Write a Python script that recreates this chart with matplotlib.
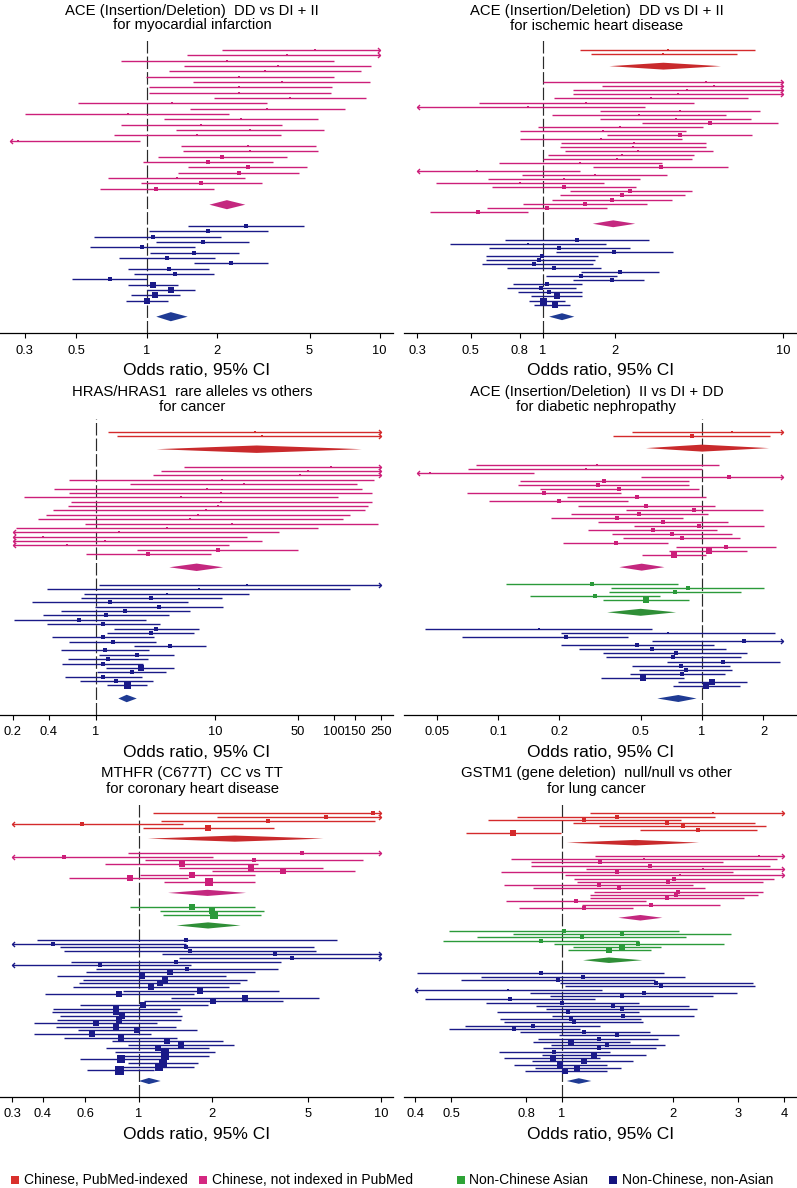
import numpy as np
import matplotlib
matplotlib.use("Agg")
import matplotlib.pyplot as plt
from matplotlib.path import Path
from matplotlib.lines import Line2D
from matplotlib.ticker import NullLocator, FixedLocator, FixedFormatter

plt.rcParams['font.family'] = ['Liberation Sans', 'DejaVu Sans']
plt.rcParams['lines.scale_dashes'] = False

# ---------------- DATA ----------------
legend_labels = ["Chinese, PubMed-indexed", "Chinese, not indexed in PubMed",
                 "Non-Chinese Asian", "Non-Chinese, non-Asian"]

# Panel 1: ACE DD vs DI+II, myocardial infarction
p1_title = ["ACE (Insertion/Deletion)  DD vs DI + II", "for myocardial infarction"]
p1_ticks = [0.3, 0.5, 1, 2, 5, 10]
p1_cn_or = [5.28, 4.01, 2.21, 3.65, 3.21, 2.50, 3.79, 2.50, 2.48, 4.12, 1.29, 3.30, 0.83, 2.54,
            1.71, 2.77, 1.65, 0.28, 2.72, 2.79, 2.11, 1.83, 2.72, 2.50, 1.35, 1.71, 1.10]
p1_cn_lo = [2.10, 1.49, 0.775, 1.45, 1.25, 0.99, 1.58, 1.02, 1.02, 1.94, 0.508, 1.53, 0.301, 1.19,
            0.775, 1.34, 0.723, 0.05, 1.41, 1.43, 1.12, 0.967, 1.51, 1.37, 0.684, 0.945, 0.629]
p1_cn_hi = [25, 20, 6.34, 9.18, 8.31, 6.34, 9.08, 6.23, 6.20, 8.73, 3.30, 7.11, 2.25, 5.41,
            3.79, 5.74, 3.76, 0.936, 5.32, 5.44, 4.01, 3.49, 4.86, 4.51, 2.64, 3.13, 1.95]
p1_cn_pool = [2.21, 1.86, 2.65]
p1_nn_or = [2.67, 1.83, 1.06, 1.74, 0.958, 1.60, 1.22, 2.30, 1.25, 1.32, 0.695, 1.06, 1.27, 1.09, 1.00]
p1_nn_lo = [1.50, 1.02, 0.593, 1.10, 0.570, 1.03, 0.762, 1.59, 0.834, 0.885, 0.478, 0.828, 1.00, 0.856, 0.812]
p1_nn_hi = [4.73, 3.32, 2.09, 2.76, 1.62, 2.50, 1.96, 3.32, 1.86, 1.95, 1.00, 1.36, 1.62, 1.39, 1.23]
p1_nn_pool = [1.27, 1.10, 1.50]

# Panel 2: ACE DD vs DI+II, ischemic heart disease
p2_title = ["ACE (Insertion/Deletion)  DD vs DI + II", "for ischemic heart disease"]
p2_ticks = [0.3, 0.5, 0.8, 1, 2, 10]
p2_cp_or = [3.31, 3.17]
p2_cp_lo = [1.43, 1.58]
p2_cp_hi = [7.64, 6.41]
p2_cp_pool = [3.17, 1.89, 5.50]
p2_cn_or = [4.78, 5.16, 3.97, 3.66, 2.81, 1.51, 0.863, 3.72, 2.51, 3.56, 4.93, 2.10, 1.78, 3.70,
            1.74, 2.38, 2.36, 2.49, 2.13, 2.03, 1.43, 3.09, 0.532, 1.64, 1.22, 0.802, 1.22,
            2.30, 2.14, 1.93, 1.50, 1.04, 0.538]
p2_cn_lo = [1.00, 1.76, 1.33, 1.33, 1.11, 0.543, 0.10, 1.73, 1.09, 1.73, 2.58, 0.956, 0.802, 1.85,
            0.802, 1.19, 1.18, 1.23, 1.05, 1.00, 0.656, 1.62, 0.10, 0.815, 0.592, 0.358, 0.611,
            1.29, 1.18, 1.09, 0.828, 0.586, 0.338]
p2_cn_hi = [20, 20, 20, 20, 7.13, 4.23, 2.66, 8.02, 5.79, 7.36, 9.47, 4.63, 3.94, 7.40,
            3.78, 4.78, 4.75, 5.09, 4.23, 4.16, 3.14, 5.88, 1.43, 3.27, 2.54, 1.80, 2.43,
            4.16, 3.91, 3.44, 2.70, 1.84, 0.863]
p2_cn_pool = [1.96, 1.61, 2.42]
p2_nn_or = [1.39, 0.869, 1.17, 1.98, 0.987, 0.965, 0.920, 1.11, 2.09, 1.44, 1.94, 1.04, 0.978,
            1.06, 1.14, 1.00, 1.12]
p2_nn_lo = [0.695, 0.412, 0.596, 1.13, 0.579, 0.579, 0.559, 0.710, 1.44, 1.03, 1.33, 0.747, 0.710,
            0.784, 0.891, 0.877, 0.92]
p2_nn_hi = [2.77, 1.82, 2.30, 3.47, 1.69, 1.64, 1.61, 1.74, 3.05, 2.03, 2.62, 1.45, 1.37,
            1.45, 1.45, 1.23, 1.30]
p2_nn_pool = [1.20, 1.06, 1.35]

# Panel 3: HRAS rare alleles, cancer
p3_title = ["HRAS/HRAS1  rare alleles vs others", "for cancer"]
p3_ticks = [0.2, 0.4, 1, 10, 50, 100, 150, 250]
p3_cp_or = [21.7, 25.0]
p3_cp_lo = [1.27, 1.49]
p3_cp_hi = [1000, 1000]
p3_cp_pool = [22.4, 3.23, 171]
p3_cn_or = [93.8, 60.1, 51.8, 11.4, 17.5, 8.62, 11.2, 5.18, 11.2, 10.5, 8.40, 7.25, 6.17, 13.8,
            3.98, 1.57, 0.356, 1.19, 0.567, 10.5, 2.72]
p3_cn_lo = [5.52, 3.52, 2.99, 0.593, 1.93, 0.447, 0.593, 0.250, 0.613, 0.585, 0.438, 0.380, 0.323,
            0.808, 0.213, 0.10, 0.10, 0.10, 0.10, 2.20, 0.824]
p3_cn_hi = [1000, 1000, 1000, 217, 155, 171, 210, 109, 210, 194, 182, 136, 120, 236,
            73.8, 34.7, 18.5, 24.7, 13.2, 49.5, 9.20]
p3_cn_pool = [7.01, 4.13, 11.7]
p3_nn_or = [18.5, 7.34, 3.92, 2.90, 1.31, 3.38, 1.76, 1.21, 0.724, 1.15, 3.19, 2.90, 1.15, 1.38,
            4.19, 1.19, 2.20, 1.27, 1.14, 2.37, 1.99, 1.15, 1.47, 1.81]
p3_nn_lo = [1.06, 0.385, 0.798, 0.743, 0.288, 0.98, 0.508, 0.356, 0.206, 0.385, 1.42, 1.23, 0.430,
            0.597, 2.09, 0.508, 1.06, 0.585, 0.521, 1.21, 1.01, 0.549, 0.734, 1.24]
p3_nn_hi = [1000, 136, 19.4, 11.4, 5.97, 11.7, 6.17, 4.11, 2.62, 3.45, 7.34, 6.70, 3.09, 3.17,
            8.35, 2.79, 4.52, 2.75, 2.50, 4.55, 3.88, 2.45, 2.99, 2.67]
p3_nn_pool = [1.81, 1.54, 2.20]

# Panel 4: ACE II vs DI+DD, diabetic nephropathy
p4_title = ["ACE (Insertion/Deletion)  II vs DI + DD", "for diabetic nephropathy"]
p4_ticks = [0.05, 0.1, 0.2, 0.5, 1, 2]
p4_cp_or = [1.41, 0.893]
p4_cp_lo = [0.455, 0.367]
p4_cp_hi = [5.0, 2.15]
p4_cp_pool = [1.00, 0.531, 2.13]
p4_cn_or = [0.307, 0.270, 0.0464, 1.36, 0.332, 0.310, 0.393, 0.168, 0.479, 0.198, 0.531, 0.914,
            0.493, 0.382, 0.641, 0.967, 0.573, 0.716, 0.795, 0.377, 1.31, 1.08, 0.732]
p4_cn_lo = [0.078, 0.0716, 0.01, 0.50, 0.128, 0.125, 0.161, 0.0707, 0.217, 0.0907, 0.246, 0.423,
            0.228, 0.181, 0.308, 0.466, 0.277, 0.363, 0.409, 0.209, 0.746, 0.692, 0.506]
p4_cn_hi = [1.21, 1.00, 0.150, 5.0, 0.867, 0.867, 0.970, 0.401, 1.05, 0.432, 1.16, 1.98,
            1.07, 0.810, 1.34, 2.01, 1.19, 1.41, 1.54, 0.684, 2.30, 1.67, 1.05]
p4_cn_pool = [0.506, 0.393, 0.654]
p4_na_or = [0.290, 0.851, 0.737, 0.299, 0.531]
p4_na_lo = [0.109, 0.358, 0.351, 0.144, 0.328]
p4_na_hi = [0.765, 2.01, 1.55, 0.622, 0.867]
p4_na_pool = [0.50, 0.343, 0.746]
p4_nn_or = [0.158, 0.679, 0.215, 1.61, 0.482, 0.571, 0.743, 0.724, 1.27, 0.789, 0.832, 0.795,
            0.512, 1.12, 1.05]
p4_nn_lo = [0.0439, 0.204, 0.0669, 0.571, 0.204, 0.248, 0.328, 0.337, 0.671, 0.455, 0.493, 0.441,
            0.320, 0.760, 0.724]
p4_nn_hi = [0.567, 2.28, 0.435, 5.0, 1.14, 1.31, 1.67, 1.56, 2.41, 1.37, 1.40, 1.29,
            0.819, 1.67, 1.54]
p4_nn_pool = [0.765, 0.604, 0.94]

# Panel 5: MTHFR CC vs TT, coronary heart disease
p5_title = ["MTHFR (C677T)  CC vs TT", "for coronary heart disease"]
p5_ticks = [0.3, 0.4, 0.6, 1, 2, 5, 10]
p5_cp_or = [9.30, 5.93, 3.40, 0.580, 1.93]
p5_cp_lo = [1.14, 2.11, 1.23, 0.10, 1.04]
p5_cp_hi = [30, 30, 9.44, 1.52, 3.61]
p5_cp_pool = [2.49, 1.09, 5.78]
p5_cn_or = [4.73, 0.491, 3.00, 1.50, 2.89, 3.95, 1.66, 0.918, 1.95]
p5_cn_lo = [0.898, 0.10, 1.06, 0.724, 1.47, 2.00, 1.01, 0.515, 1.27]
p5_cn_hi = [30, 2.02, 8.45, 3.11, 5.74, 7.81, 3.02, 1.60, 3.02]
p5_cn_pool = [1.92, 1.32, 2.77]
p5_na_or = [1.66, 2.00, 2.05]
p5_na_lo = [0.918, 1.22, 1.26]
p5_na_hi = [3.02, 3.29, 3.19]
p5_na_pool = [1.93, 1.43, 2.63]
p5_nn_or = [1.56, 0.440, 1.57, 1.62, 3.65, 4.30, 1.42, 0.690, 1.58, 1.35, 1.03, 1.28, 1.22, 1.12,
            1.79, 0.829, 2.74, 2.03, 1.04, 0.801, 0.801, 0.853, 0.829, 0.662, 0.801, 0.978, 0.641,
            0.840, 1.31, 1.49, 1.20, 1.28, 1.28, 0.840, 1.26, 1.21, 0.829]
p5_nn_lo = [0.381, 0.10, 0.472, 0.491, 1.25, 1.47, 0.522, 0.10, 0.668, 0.602, 0.460, 0.589, 0.567,
            0.532, 0.862, 0.411, 1.36, 1.05, 0.571, 0.443, 0.438, 0.472, 0.461, 0.369, 0.453, 0.562,
            0.369, 0.491, 0.771, 0.904, 0.730, 0.796, 0.856, 0.571, 0.904, 0.813, 0.608]
p5_nn_hi = [6.56, 1.56, 5.30, 5.37, 30, 30, 3.86, 1.64, 3.74, 3.03, 2.30, 2.79, 2.61, 2.35,
            3.80, 1.69, 5.54, 3.95, 1.92, 1.48, 1.44, 1.51, 1.49, 1.19, 1.42, 1.73, 1.12,
            1.43, 2.22, 2.48, 1.95, 2.06, 1.95, 1.25, 1.76, 1.69, 1.15]
p5_nn_pool = [1.10, 1.00, 1.23]

# Panel 6: GSTM1 null/null vs other, lung cancer
p6_title = ["GSTM1 (gene deletion)  null/null vs other", "for lung cancer"]
p6_ticks = [0.4, 0.5, 0.8, 1, 2, 3, 4]
p6_cp_or = [2.56, 1.41, 1.15, 1.92, 2.12, 2.34, 0.738]
p6_cp_lo = [1.19, 0.757, 0.628, 1.07, 1.26, 1.63, 0.549]
p6_cp_hi = [10, 2.60, 2.10, 3.33, 3.56, 3.37, 0.994]
p6_cp_pool = [1.58, 1.03, 2.35]
p6_cn_or = [3.42, 1.67, 1.27, 1.73, 2.41, 1.41, 2.09, 2.01, 1.94, 1.26, 1.43, 2.06, 2.03, 1.93,
            1.09, 1.74, 1.15]
p6_cn_lo = [1.23, 0.727, 0.822, 0.822, 1.16, 0.684, 1.02, 1.08, 1.10, 0.698, 0.833, 1.22, 1.19,
            1.19, 0.704, 1.13, 0.765]
p6_cn_hi = [10, 3.82, 2.73, 3.65, 10, 2.90, 10, 3.74, 3.50, 2.27, 2.44, 3.50, 3.40, 3.12,
            1.69, 2.68, 1.56]
p6_cn_pool = [1.63, 1.42, 1.87]
p6_na_or = [1.01, 1.45, 1.13, 0.875, 1.61, 1.45, 1.34]
p6_na_lo = [0.495, 0.738, 0.587, 0.475, 0.951, 1.07, 1.04]
p6_na_hi = [2.08, 2.87, 2.17, 1.62, 2.74, 1.85, 1.74]
p6_na_pool = [1.34, 1.14, 1.65]
p6_nn_or = [0.875, 1.14, 0.973, 1.80, 1.85, 0.713, 1.67, 1.45, 0.723, 1.00, 1.37, 1.45, 1.04, 1.46,
            1.06, 1.08, 0.833, 0.741, 1.15, 1.41, 1.26, 1.06, 1.32, 1.26, 0.951, 1.22, 0.943, 1.15,
            0.988, 1.10, 1.02]
p6_nn_lo = [0.404, 0.603, 0.531, 0.988, 1.02, 0.20, 0.819, 0.928, 0.425, 0.622, 0.850, 0.905, 0.668,
            0.938, 0.679, 0.698, 0.546, 0.494, 0.77, 0.983, 0.863, 0.836, 0.932, 0.89, 0.676, 0.881,
            0.697, 0.827, 0.741, 0.842, 0.794]
p6_nn_hi = [1.89, 2.15, 1.79, 3.30, 3.33, 1.28, 2.97, 2.56, 1.23, 1.62, 2.21, 2.32, 1.62, 2.28,
            1.64, 1.66, 1.27, 1.12, 1.73, 2.07, 1.82, 1.53, 1.90, 1.80, 1.35, 1.69, 1.27, 1.56,
            1.32, 1.44, 1.32]
p6_nn_pool = [1.11, 1.03, 1.20]

# ---------------- STYLE / LAYOUT ----------------
COL = {'cp': '#d42a2c', 'cn': '#cc1f7a', 'na': '#2b9a3a', 'nn': '#1a1a88'}
DIA = {'cp': '#c92a2c', 'cn': '#c4287f', 'na': '#2f8f37', 'nn': '#1f3b94'}
LEG = {'cp': '#d9302c', 'cn': '#d42881', 'na': '#2ea336', 'nn': '#14147f'}

panels = [
    dict(title=p1_title, ticks=p1_ticks, xlim=(0.235, 11.4), clip=(0.26, 10), maxside=6,
         groups=[('cn', p1_cn_or, p1_cn_lo, p1_cn_hi, p1_cn_pool),
                 ('nn', p1_nn_or, p1_nn_lo, p1_nn_hi, p1_nn_pool)]),
    dict(title=p2_title, ticks=p2_ticks, xlim=(0.264, 11.4), clip=(0.3, 10), maxside=7,
         groups=[('cp', p2_cp_or, p2_cp_lo, p2_cp_hi, p2_cp_pool),
                 ('cn', p2_cn_or, p2_cn_lo, p2_cn_hi, p2_cn_pool),
                 ('nn', p2_nn_or, p2_nn_lo, p2_nn_hi, p2_nn_pool)]),
    dict(title=p3_title, ticks=p3_ticks, xlim=(0.156, 313), clip=(0.2, 250), maxside=7,
         groups=[('cp', p3_cp_or, p3_cp_lo, p3_cp_hi, p3_cp_pool),
                 ('cn', p3_cn_or, p3_cn_lo, p3_cn_hi, p3_cn_pool),
                 ('nn', p3_nn_or, p3_nn_lo, p3_nn_hi, p3_nn_pool)]),
    dict(title=p4_title, ticks=p4_ticks, xlim=(0.0346, 2.92), clip=(0.04, 2.5), maxside=6,
         groups=[('cp', p4_cp_or, p4_cp_lo, p4_cp_hi, p4_cp_pool),
                 ('cn', p4_cn_or, p4_cn_lo, p4_cn_hi, p4_cn_pool),
                 ('na', p4_na_or, p4_na_lo, p4_na_hi, p4_na_pool),
                 ('nn', p4_nn_or, p4_nn_lo, p4_nn_hi, p4_nn_pool)]),
    dict(title=p5_title, ticks=p5_ticks, xlim=(0.267, 11.2), clip=(0.3, 10), maxside=9,
         groups=[('cp', p5_cp_or, p5_cp_lo, p5_cp_hi, p5_cp_pool),
                 ('cn', p5_cn_or, p5_cn_lo, p5_cn_hi, p5_cn_pool),
                 ('na', p5_na_or, p5_na_lo, p5_na_hi, p5_na_pool),
                 ('nn', p5_nn_or, p5_nn_lo, p5_nn_hi, p5_nn_pool)]),
    dict(title=p6_title, ticks=p6_ticks, xlim=(0.373, 4.33), clip=(0.4, 4), maxside=6,
         groups=[('cp', p6_cp_or, p6_cp_lo, p6_cp_hi, p6_cp_pool),
                 ('cn', p6_cn_or, p6_cn_lo, p6_cn_hi, p6_cn_pool),
                 ('na', p6_na_or, p6_na_lo, p6_na_hi, p6_na_pool),
                 ('nn', p6_nn_or, p6_nn_lo, p6_nn_hi, p6_nn_pool)]),
]

W, H, DPI = 797, 1188, 100
fig = plt.figure(figsize=(W / DPI, H / DPI), dpi=DPI)
PT = 72.0 / DPI  # points per pixel

col_x = [(0, 393), (404, 797)]
title_cx = [192, 596.5]
row_top = [38, 419.3, 801.7]
row_first = [50, 431.7, 813.3]
row_last = [316.7, 698.5, 1081.0]
row_axis = [333.3, 715.0, 1096.7]
row_title = [(11, 25.5), (392, 407), (773.5, 788.5)]

RIGHT = Path([(-0.5, 0.5), (0, 0), (-0.5, -0.5)], [Path.MOVETO, Path.LINETO, Path.LINETO])
LEFT = Path([(0.5, 0.5), (0, 0), (0.5, -0.5)], [Path.MOVETO, Path.LINETO, Path.LINETO])
LW = 1.0

for i, p in enumerate(panels):
    r, c = divmod(i, 2)
    x0, x1 = col_x[c]
    ax = fig.add_axes([x0 / W, 1 - row_axis[r] / H, (x1 - x0) / W, (row_axis[r] - row_top[r]) / H])
    ax.set_xscale('log')
    ax.set_xlim(*p['xlim'])

    # row layout
    y = 0
    rows, dpos = [], []
    for g in p['groups']:
        n = len(g[1])
        rows.append(np.arange(n) + y)
        d = y + n - 1 + 3
        dpos.append(d)
        y = d + 4
    D = dpos[-1]
    s = (row_last[r] - row_first[r]) / D
    ax.set_ylim(D + (row_axis[r] - row_last[r]) / s, -(row_first[r] - row_top[r]) / s)

    # marker side based on SE
    allse = []
    for g in p['groups']:
        allse += list((np.log(g[3]) - np.log(g[2])) / 3.92)
    semin = min(allse)

    ax.axvline(1, color='#2a2a2a', lw=0.85, dashes=(9, 2.2), zorder=1)

    cl0, cl1 = p['clip']
    for g, ys, dy in zip(p['groups'], rows, dpos):
        key, ors, los, his, pool = g
        col = COL[key]
        for yy, o, lo, hi in zip(ys, ors, los, his):
            l = max(lo, cl0)
            h = min(hi, cl1)
            ax.plot([l, h], [yy, yy], color=col, lw=LW, solid_capstyle='butt', zorder=2)
            if lo < cl0:
                ax.plot([cl0], [yy], marker=LEFT, ms=5 * PT, mfc='none', mec=col, mew=LW, zorder=2)
            if hi > cl1:
                ax.plot([cl1], [yy], marker=RIGHT, ms=5 * PT, mfc='none', mec=col, mew=LW, zorder=2)
            se = (np.log(hi) - np.log(lo)) / 3.92
            side = max(2.2, p['maxside'] * (semin / se) ** 0.6)
            ax.plot([o], [yy], marker='s', ms=side * PT, color=col, mew=0, zorder=3)
        est, plo, phi = pool
        hh = 0.85
        ax.fill([plo, est, phi, est], [dy, dy - hh, dy, dy + hh], color=DIA[key], lw=0, zorder=3)

    for sp in ['left', 'right', 'top']:
        ax.spines[sp].set_visible(False)
    ax.spines['bottom'].set_linewidth(0.9)
    ax.set_yticks([])
    ax.xaxis.set_major_locator(FixedLocator(p['ticks']))
    ax.xaxis.set_major_formatter(FixedFormatter(['%g' % t for t in p['ticks']]))
    ax.xaxis.set_minor_locator(NullLocator())
    ax.tick_params(axis='x', direction='out', length=5 * PT, width=0.8, labelsize=9.3, pad=4.5)
    ax.set_xlabel('Odds ratio, 95% CI', fontsize=12.5, labelpad=5)
    ax.patch.set_alpha(0)

    t1, t2 = row_title[r]
    fig.text(title_cx[c] / W, 1 - t1 / H, p['title'][0], ha='center', va='center', fontsize=10.7)
    fig.text(title_cx[c] / W, 1 - t2 / H, p['title'][1], ha='center', va='center', fontsize=10.7)

# legend
leg_y = 1180
leg_pos = [(15, 24), (203, 212), (461, 469), (613, 622)]
for key, lab, (mx, tx) in zip(['cp', 'cn', 'na', 'nn'], legend_labels, leg_pos):
    fig.add_artist(Line2D([mx / W], [1 - leg_y / H], marker='s', ms=8.5 * PT, color=LEG[key],
                          mew=0, transform=fig.transFigure))
    fig.text(tx / W, 1 - leg_y / H, lab, ha='left', va='center', fontsize=10)

fig.savefig('out.png', dpi=DPI)
